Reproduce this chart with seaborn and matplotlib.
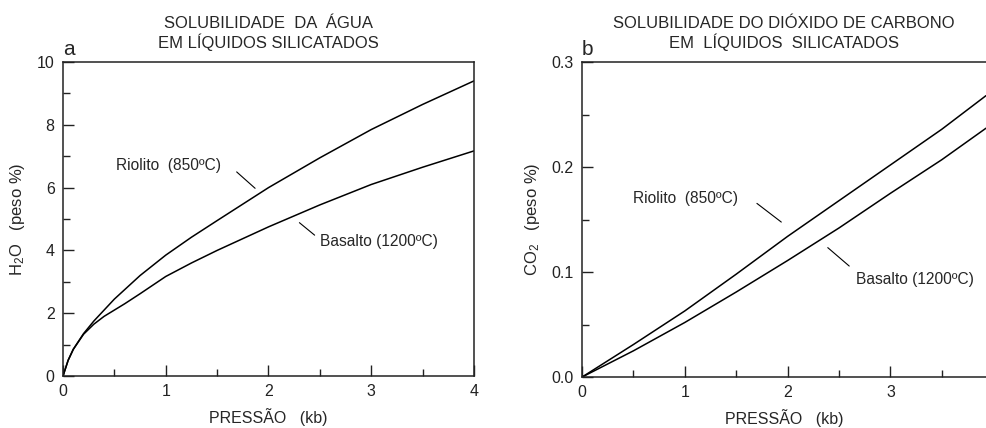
import numpy as np
import pandas as pd
import matplotlib
matplotlib.use("Agg")
import matplotlib.pyplot as plt
from matplotlib.ticker import MultipleLocator
import seaborn as sns

# ==========================================
# Data
# ==========================================

# (a) water solubility, wt %
p_h2o = [0, 0.05, 0.1, 0.2, 0.3, 0.4, 0.5, 0.6, 0.75, 1.0, 1.25, 1.5, 2.0, 2.5, 3.0, 3.5, 4.0]
riolito_h2o = [0, 0.5, 0.85, 1.35, 1.75, 2.1, 2.45, 2.75, 3.2, 3.85, 4.42, 4.95, 6.0, 6.95, 7.85, 8.65, 9.4]
basalto_h2o = [0, 0.5, 0.85, 1.33, 1.65, 1.9, 2.1, 2.3, 2.62, 3.17, 3.6, 4.0, 4.75, 5.45, 6.1, 6.65, 7.17]

# (b) CO2 solubility, wt %
p_co2 = [0, 0.5, 1.0, 1.5, 2.0, 2.5, 3.0, 3.5, 3.93]
riolito_co2 = [0, 0.031, 0.063, 0.098, 0.134, 0.168, 0.202, 0.236, 0.268]
basalto_co2 = [0, 0.025, 0.052, 0.081, 0.111, 0.142, 0.175, 0.207, 0.237]

# ==========================================
# Style
# ==========================================

sns.set_style("ticks")
plt.rcParams["font.family"] = ["Liberation Sans", "DejaVu Sans"]
plt.rcParams["mathtext.fontset"] = "custom"
plt.rcParams["mathtext.rm"] = "Liberation Sans"
plt.rcParams["mathtext.default"] = "regular"
plt.rcParams["axes.edgecolor"] = "#222222"
plt.rcParams["axes.linewidth"] = 1.1

fig = plt.figure(figsize=(9.86, 4.28), dpi=100)
ax_a = fig.add_axes([0.0639, 0.1215, 0.4168, 0.7335])
ax_b = fig.add_axes([0.5903, 0.119, 0.4097, 0.736])

lw = 1.1
txt = 11.2

# ------------------------------------------
# Panel a
# ------------------------------------------
sns.lineplot(x=p_h2o, y=riolito_h2o, ax=ax_a, color="black", lw=lw)
sns.lineplot(x=p_h2o, y=basalto_h2o, ax=ax_a, color="black", lw=lw)
ax_a.set_xlim(0, 4)
ax_a.set_ylim(0, 10)
ax_a.xaxis.set_major_locator(MultipleLocator(1))
ax_a.xaxis.set_minor_locator(MultipleLocator(0.5))
ax_a.yaxis.set_major_locator(MultipleLocator(2))
ax_a.yaxis.set_minor_locator(MultipleLocator(1))
ax_a.set_xlabel("PRESSÃO   (kb)", fontsize=11.5, labelpad=6)
ax_a.set_ylabel("H$_2$O   (peso %)", fontsize=12, labelpad=7)
ax_a.set_title("SOLUBILIDADE  DA  ÁGUA\nEM LÍQUIDOS SILICATADOS",
               fontsize=12, linespacing=1.2, pad=10)
ax_a.text(0.0, 1.01, "a", transform=ax_a.transAxes, fontsize=15, ha="left", va="bottom")

ax_a.annotate("", xy=(1.89, 5.92), xytext=(1.67, 6.56),
              arrowprops=dict(arrowstyle="-", lw=0.8, color="black"))
ax_a.text(0.52, 6.72, "Riolito  (850ºC)", fontsize=txt, va="center")
ax_a.annotate("", xy=(2.47, 4.43), xytext=(2.28, 4.94),
              arrowprops=dict(arrowstyle="-", lw=0.8, color="black"))
ax_a.text(2.5, 4.27, "Basalto (1200ºC)", fontsize=txt, va="center")

# ------------------------------------------
# Panel b
# ------------------------------------------
sns.lineplot(x=p_co2, y=riolito_co2, ax=ax_b, color="black", lw=lw)
sns.lineplot(x=p_co2, y=basalto_co2, ax=ax_b, color="black", lw=lw)
ax_b.set_xlim(0, 3.93)
ax_b.set_ylim(0, 0.3)
ax_b.xaxis.set_major_locator(MultipleLocator(1))
ax_b.xaxis.set_minor_locator(MultipleLocator(0.5))
ax_b.yaxis.set_major_locator(MultipleLocator(0.1))
ax_b.yaxis.set_minor_locator(MultipleLocator(0.05))
ax_b.yaxis.set_major_formatter(matplotlib.ticker.FormatStrFormatter("%.1f"))
ax_b.spines["right"].set_visible(False)
ax_b.set_xlabel("PRESSÃO   (kb)", fontsize=11.5, labelpad=6)
ax_b.set_ylabel("CO$_2$   (peso %)", fontsize=12, labelpad=7)
ax_b.set_title("SOLUBILIDADE DO DIÓXIDO DE CARBONO\nEM  LÍQUIDOS  SILICATADOS",
               fontsize=12, linespacing=1.2, pad=10)
ax_b.text(0.0, 1.01, "b", transform=ax_b.transAxes, fontsize=15, ha="left", va="bottom")

ax_b.annotate("", xy=(1.96, 0.146), xytext=(1.68, 0.167),
              arrowprops=dict(arrowstyle="-", lw=0.8, color="black"))
ax_b.text(0.5, 0.170, "Riolito  (850ºC)", fontsize=txt, va="center")
ax_b.annotate("", xy=(2.62, 0.104), xytext=(2.37, 0.125),
              arrowprops=dict(arrowstyle="-", lw=0.8, color="black"))
ax_b.text(2.67, 0.093, "Basalto (1200ºC)", fontsize=txt, va="center")

for ax in (ax_a, ax_b):
    ax.tick_params(which="major", direction="in", length=8, width=1, labelsize=11.5, pad=6)
    ax.tick_params(which="minor", direction="in", length=5, width=1)
    ax.tick_params(axis="both", which="both", colors="#222222")

fig.savefig("out.png", dpi=100)
